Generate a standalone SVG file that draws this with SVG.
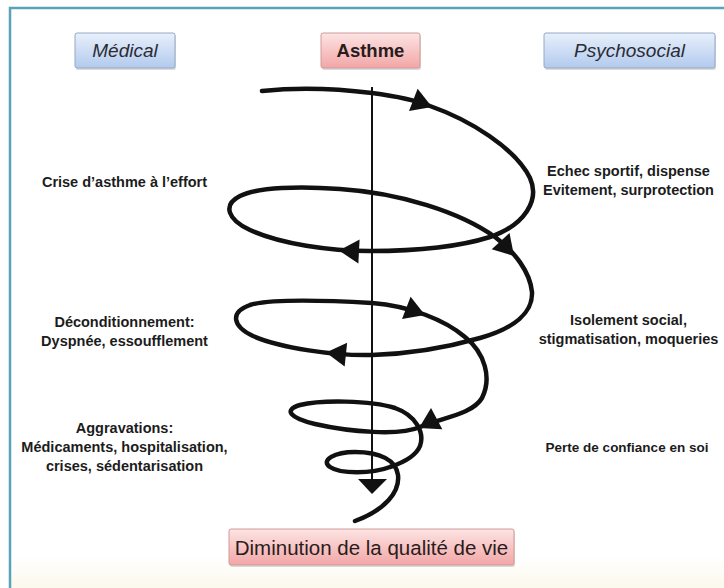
<svg xmlns="http://www.w3.org/2000/svg" width="724" height="588" viewBox="0 0 724 588">
<defs>
<linearGradient id="gBlue" x1="0" y1="0" x2="0" y2="1">
<stop offset="0" stop-color="#e8f0fb"/>
<stop offset="1" stop-color="#b2caee"/>
</linearGradient>
<linearGradient id="gPink" x1="0" y1="0" x2="0" y2="1">
<stop offset="0" stop-color="#fde4e4"/>
<stop offset="1" stop-color="#f2a6a6"/>
</linearGradient>
<linearGradient id="gBottom" x1="0" y1="0" x2="0" y2="1">
<stop offset="0" stop-color="#ffffff"/>
<stop offset="1" stop-color="#fbf8ec"/>
</linearGradient>
<path id="ah" d="M0,0 L-20,-12 L-20,12 Z"/>
<style>
.frame{fill:none;stroke:#5aa2b9;stroke-width:2.5}
.shadow{fill:#9a9a9a;opacity:0.35}
.bbox{fill:url(#gBlue);stroke:#95a8c4;stroke-width:1}
.pbox{fill:url(#gPink);stroke:#cf9a9a;stroke-width:1}
.it{font-family:"Liberation Sans",Arial,sans-serif;font-style:italic;font-size:19px;fill:#2b2b33;text-anchor:middle}
.bt{font-family:"Liberation Sans",Arial,sans-serif;font-weight:bold;font-size:18.5px;fill:#2a1c1c;text-anchor:middle}
.dt{font-family:"Liberation Sans",Arial,sans-serif;font-size:20.5px;fill:#2a1c1c;text-anchor:middle}
.lb{font-family:"Liberation Sans",Arial,sans-serif;font-weight:bold;font-size:14.5px;fill:#1c1c1c;text-anchor:middle}
.spiral{fill:none;stroke:#111;stroke-width:4.5;stroke-linecap:round;stroke-linejoin:round}
.axis{fill:none;stroke:#111;stroke-width:2}
.head{fill:#111}
</style>
</defs>
<rect x="0" y="0" width="724" height="588" fill="#ffffff"/>
<rect x="10" y="556" width="714" height="32" fill="url(#gBottom)"/>
<path class="frame" d="M10,588 V8 H724"/>

<g id="box-medical">
<rect class="shadow" x="76" y="35" width="100" height="35" rx="2"/>
<rect class="bbox" x="75" y="33" width="100" height="35" rx="2"/>
<text class="it" x="125" y="57">Médical</text>
</g>
<g id="box-asthme">
<rect class="shadow" x="322" y="35" width="99" height="35" rx="2"/>
<rect class="pbox" x="321" y="33" width="99" height="35" rx="2"/>
<text class="bt" x="370.5" y="57">Asthme</text>
</g>
<g id="box-psychosocial">
<rect class="shadow" x="545" y="35" width="171" height="35" rx="2"/>
<rect class="bbox" x="544" y="33" width="171" height="35" rx="2"/>
<text class="it" x="629.5" y="57">Psychosocial</text>
</g>
<g id="box-diminution">
<rect class="shadow" x="230" y="531" width="285" height="36" rx="2"/>
<rect class="pbox" x="229" y="529" width="285" height="36" rx="2"/>
<text class="dt" x="371.5" y="554.5">Diminution de la qualité de vie</text>
</g>

<g id="label-crise">
<text class="lb" x="124.5" y="187">Crise d’asthme à l’effort</text>
</g>
<g id="label-deconditionnement">
<text class="lb" x="124.5" y="327">Déconditionnement:</text>
<text class="lb" x="124.5" y="346">Dyspnée, essoufflement</text>
</g>
<g id="label-aggravations">
<text class="lb" x="124.5" y="433">Aggravations:</text>
<text class="lb" x="124.5" y="452">Médicaments, hospitalisation,</text>
<text class="lb" x="124.5" y="471">crises, sédentarisation</text>
</g>
<g id="label-echec">
<text class="lb" x="628.5" y="176">Echec sportif, dispense</text>
<text class="lb" x="628.5" y="195">Evitement, surprotection</text>
</g>
<g id="label-isolement">
<text class="lb" x="628.5" y="325">Isolement social,</text>
<text class="lb" x="628.5" y="344">stigmatisation, moqueries</text>
</g>
<g id="label-perte">
<text class="lb" x="627" y="452" style="font-size:13.5px">Perte de confiance en soi</text>
</g>

<g id="connectors">
<path class="spiral" d="M262,91 C300,87 340,89 372,93 C395,96 415,100 430,106 C470,120 515,148 530,178 C540,200 525,225 490,237 C455,248 410,251 370,251 C330,251 280,244 250,230 C228,220 222,205 240,196 C258,187 300,186 340,189 C400,193 460,212 495,237 C515,252 530,272 532,292 C533,312 515,328 480,338 C445,348 405,354 372,355 C335,356 280,348 253,336 C232,326 230,312 250,305 C270,299 320,300 372,303 C410,306 445,320 465,337 C485,353 492,378 482,398 C472,415 440,418 420,427 C400,436 350,432 315,424 C290,418 283,410 300,405 C320,400 370,400 395,408 C415,415 425,432 420,446 C416,456 405,462 390,467 C372,474 340,474 330,467 C320,460 335,452 355,452 C380,452 396,460 398,475 C400,492 385,510 355,521"/>
<line class="axis" x1="372" y1="87" x2="372" y2="482"/>
<polygon class="head" points="358,479 387,479 372,494"/>
<use href="#ah" class="head" transform="translate(432,107) rotate(21)"/>
<use href="#ah" class="head" transform="translate(339,250.5) rotate(183)"/>
<use href="#ah" class="head" transform="translate(514,256) rotate(48)"/>
<use href="#ah" class="head" transform="translate(326,352.5) rotate(186)"/>
<use href="#ah" class="head" transform="translate(425,315) rotate(21)"/>
<use href="#ah" class="head" transform="translate(419,428) rotate(152)"/>
</g>
</svg>
